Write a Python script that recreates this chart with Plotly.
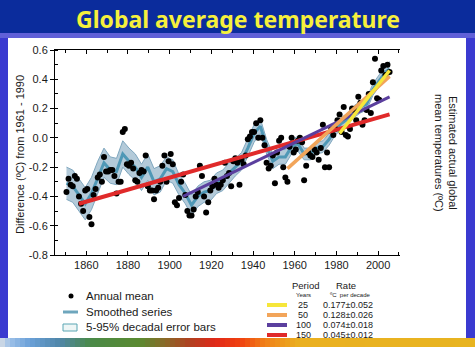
import plotly.graph_objects as go

# ---------------- data ----------------
years = list(range(1850, 2006))
annual = [
    -0.37, -0.28, -0.32, -0.33, -0.26, -0.28, -0.40, -0.45, -0.50, -0.36,   # 1850s
    -0.35, -0.54, -0.59, -0.39, -0.35, -0.27, -0.25, -0.30, -0.13, -0.23,   # 1860s
    -0.23, -0.22, -0.22, -0.26, -0.38, -0.30, -0.30, 0.04, 0.06, -0.18,     # 1870s
    -0.19, -0.17, -0.21, -0.29, -0.30, -0.24, -0.22, -0.23, -0.12, -0.33,   # 1880s
    -0.36, -0.36, -0.42, -0.36, -0.34, -0.30, -0.19, -0.12, -0.30, -0.16,   # 1890s
    -0.11, -0.18, -0.44, -0.46, -0.41, -0.30, -0.25, -0.39, -0.50, -0.53,   # 1900s
    -0.53, -0.49, -0.40, -0.37, -0.19, -0.26, -0.40, -0.51, -0.44, -0.36,   # 1910s
    -0.33, -0.28, -0.32, -0.34, -0.32, -0.29, -0.17, -0.26, -0.24, -0.33,   # 1920s
    -0.16, -0.14, -0.17, -0.32, -0.15, -0.18, -0.12, -0.01, 0.01, 0.04,     # 1930s
    0.04, 0.10, 0.00, 0.12, 0.00, -0.05, -0.17, -0.21, -0.19, -0.12,        # 1940s
    -0.31, -0.10, -0.02, 0.00, -0.20, -0.27, -0.30, -0.06, 0.00, -0.10,     # 1950s
    -0.08, -0.02, 0.00, -0.03, -0.29, -0.19, -0.10, -0.12, -0.13, -0.08,    # 1960s
    -0.10, -0.15, -0.07, 0.09, -0.20, -0.10, -0.20, 0.06, 0.02, 0.06,       # 1970s
    0.12, 0.16, 0.04, 0.21, 0.02, 0.01, 0.06, 0.20, 0.19, 0.12,             # 1980s
    0.28, 0.24, 0.09, 0.12, 0.19, 0.30, 0.17, 0.38, 0.54, 0.27,             # 1990s
    0.26, 0.46, 0.49, 0.43, 0.50, 0.45,                                     # 2000s
]

smooth_years = [1850, 1853, 1856, 1859, 1862, 1865, 1868, 1871, 1874, 1877,
                1880, 1883, 1886, 1889, 1892, 1895, 1898, 1901, 1904, 1907,
                1910, 1913, 1916, 1919, 1922, 1925, 1928, 1931, 1934, 1937,
                1940, 1943, 1946, 1949, 1952, 1955, 1958, 1961, 1964, 1967,
                1970, 1973, 1976, 1979, 1982, 1985, 1988, 1991, 1994, 1997,
                2000, 2003, 2005]
smooth_vals = [-0.31, -0.33, -0.39, -0.45, -0.38, -0.27, -0.17, -0.22, -0.23, -0.11,
               -0.16, -0.20, -0.27, -0.20, -0.30, -0.28, -0.21, -0.23, -0.32, -0.38,
               -0.46, -0.40, -0.37, -0.36, -0.31, -0.29, -0.24, -0.20, -0.16, -0.07,
               0.03, 0.08, -0.06, -0.16, -0.13, -0.13, -0.06, -0.04, -0.11, -0.11,
               -0.07, -0.06, -0.01, 0.06, 0.10, 0.13, 0.18, 0.21, 0.23, 0.33,
               0.39, 0.45, 0.47]
smooth_half = [0.11, 0.11, 0.11, 0.11, 0.11, 0.11, 0.10, 0.09, 0.09, 0.09,
               0.09, 0.09, 0.09, 0.09, 0.09, 0.09, 0.08, 0.08, 0.07, 0.07,
               0.07, 0.07, 0.07, 0.07, 0.07, 0.07, 0.07, 0.06, 0.06, 0.06,
               0.06, 0.05, 0.05, 0.05, 0.05, 0.05, 0.05, 0.05, 0.04, 0.04,
               0.04, 0.04, 0.04, 0.04, 0.04, 0.04, 0.04, 0.04, 0.04, 0.04,
               0.04, 0.05, 0.05]

periods = [25, 50, 100, 150]
rates = [0.177, 0.128, 0.074, 0.045]
rate_err = [0.052, 0.026, 0.018, 0.012]
trend_colors = ["#f6e63a", "#f2a55a", "#5b3f9e", "#e02a2a"]
trend_widths = [3.5, 3.5, 3, 4]
trend_start_val = [0.03, -0.21, -0.40, -0.45]
trend_end_val = [0.46, 0.42, 0.28, 0.16]
end_year = 2005

x_tick_vals = [1860, 1880, 1900, 1920, 1940, 1960, 1980, 2000]
left_tick_vals = [-0.8, -0.6, -0.4, -0.2, 0.0, 0.2, 0.4, 0.6]
left_tick_text = ["-0.8", "-0.6", "-0.4", "-0.2", "0.0", "0.2", "0.4", "0.6"]
right_tick_vals = [13.2, 13.4, 13.6, 13.8, 14.0, 14.2, 14.4, 14.6]
right_tick_text = ["13.2", "13.4", "13.6", "13.8", "14.0", "14.2", "14.4", "14.6"]

# ---------------- layout helpers (pixel -> paper) ----------------
W, H = 475, 347
ML, MR, MT, MB = 55, 75, 50, 92
PW, PH = W - ML - MR, H - MT - MB


def px(x):
    return (x - ML) / PW


def py(y):
    return (H - MB - y) / PH


FONT = "Liberation Sans, Arial, sans-serif"

fig = go.Figure()

# error band
xs = [y + 0.5 for y in smooth_years]
upper = [v + h for v, h in zip(smooth_vals, smooth_half)]
lower = [v - h for v, h in zip(smooth_vals, smooth_half)]
fig.add_trace(go.Scatter(x=xs, y=upper, mode="lines",
                         line=dict(color="#7fa7bf", width=1), hoverinfo="skip",
                         showlegend=False))
fig.add_trace(go.Scatter(x=xs, y=lower, mode="lines", fill="tonexty",
                         fillcolor="#b3cad9",
                         line=dict(color="#7fa7bf", width=1), hoverinfo="skip",
                         showlegend=False))
# smoothed series
fig.add_trace(go.Scatter(x=xs, y=smooth_vals, mode="lines",
                         line=dict(color="#4f98b6", width=3), showlegend=False))
# annual means
fig.add_trace(go.Scatter(x=[y + 0.5 for y in years], y=annual, mode="markers",
                         marker=dict(color="black", size=6), showlegend=False))
# trend lines (longest first so the shortest is on top)
for i in reversed(range(len(periods))):
    x0 = end_year - periods[i] + 1 + 0.5
    x1 = end_year + 0.5
    fig.add_trace(go.Scatter(x=[x0, x1], y=[trend_start_val[i], trend_end_val[i]],
                             mode="lines",
                             line=dict(color=trend_colors[i], width=trend_widths[i]),
                             showlegend=False))

# ---------------- decorative background shapes ----------------
shapes = []


def rect(x0, y0, x1, y1, color):
    shapes.append(dict(type="rect", xref="paper", yref="paper",
                       x0=px(x0), x1=px(x1), y0=py(y1), y1=py(y0),
                       fillcolor=color, line=dict(width=0), layer="below"))


rect(0, 0, W, 33, "#0b2c9c")
rect(0, 33, W, 38, "#6060d8")
rect(8, 38, 466, 338, "#ffffff")

grad_stops = [(0, (216, 221, 228)), (10, (156, 192, 232)), (30, (106, 160, 216)),
              (60, (79, 134, 168)), (90, (74, 138, 72)), (140, (90, 138, 48)),
              (165, (138, 106, 40)), (190, (176, 64, 32)), (215, (224, 40, 24)),
              (240, (240, 64, 16)), (265, (240, 128, 24)), (300, (234, 176, 32)),
              (475, (232, 180, 32))]


def grad_color(x):
    for (xa, ca), (xb, cb) in zip(grad_stops[:-1], grad_stops[1:]):
        if xa <= x <= xb:
            t = (x - xa) / (xb - xa)
            c = [int(round(a + (b - a) * t)) for a, b in zip(ca, cb)]
            return "rgb(%d,%d,%d)" % tuple(c)
    return "rgb(232,180,32)"


step = 5
for xx in range(0, W, step):
    rect(xx, 338, xx + step + 0.6, H, grad_color(xx + step / 2))

# legend glyphs (left block)
shapes.append(dict(type="circle", xref="paper", yref="paper",
                   x0=px(68.5), x1=px(73.5), y0=py(298.5), y1=py(293.5),
                   fillcolor="black", line=dict(width=0)))
shapes.append(dict(type="line", xref="paper", yref="paper",
                   x0=px(63), x1=px(78), y0=py(312), y1=py(312),
                   line=dict(color="#6ea6bd", width=3)))
shapes.append(dict(type="rect", xref="paper", yref="paper",
                   x0=px(63), x1=px(77), y0=py(331), y1=py(324),
                   fillcolor="#eef6f6", line=dict(color="#5aa6b4", width=1)))
# legend glyphs (trend table)
row_y = [305, 315, 325, 335]
for i in range(len(periods)):
    shapes.append(dict(type="line", xref="paper", yref="paper",
                       x0=px(267), x1=px(287), y0=py(row_y[i]), y1=py(row_y[i]),
                       line=dict(color=trend_colors[i], width=4)))

# ---------------- annotations ----------------
ann = []


def text(x, y, s, size, color="#1a1a1a", xanchor="center", angle=0, family=FONT):
    ann.append(dict(x=px(x), y=py(y), xref="paper", yref="paper", text=s,
                    showarrow=False, xanchor=xanchor, yanchor="middle",
                    textangle=angle, borderpad=0,
                    font=dict(size=size, color=color, family=family)))


text(237.5, 19, "<b>Global average temperature</b>", 23, color="#f6f03c",
     family="Comic Sans MS, Noto Sans, sans-serif")
text(20, 155, "Difference (ºC) from 1961 - 1990", 11, angle=-90)
text(446, 153, "Estimated actual global<br>mean temperatures (ºC)", 11, angle=90)

text(85, 296, "Annual mean", 11.5, xanchor="left")
text(85, 312, "Smoothed series", 11.5, xanchor="left")
text(85, 327, "5-95% decadal error bars", 11.5, xanchor="left")

text(305, 285.5, "Period", 9.5)
text(346, 285.5, "Rate", 9.5)
text(303, 294.5, "Years", 6)
text(350, 294.5, "ºC  per decade", 6)
for i in range(len(periods)):
    text(303, row_y[i], str(periods[i]), 9)
    text(348, row_y[i], "%.3f±%.3f" % (rates[i], rate_err[i]), 9)

fig.update_layout(
    width=W, height=H,
    margin=dict(l=ML, r=MR, t=MT, b=MB),
    paper_bgcolor="#3a3ad0",
    plot_bgcolor="white",
    shapes=shapes,
    annotations=ann,
    showlegend=False,
    xaxis=dict(range=[1845, 2010.5], tickvals=x_tick_vals,
               ticktext=[str(v) for v in x_tick_vals],
               showgrid=False, zeroline=False, showline=True, linecolor="black",
               linewidth=1, mirror="ticks", ticks="inside", ticklen=4,
               tickcolor="black",
               minor=dict(tickvals=[1850, 1870, 1890, 1910, 1930, 1950, 1970, 1990, 2010],
                          ticks="inside", ticklen=3, tickcolor="black"),
               tickfont=dict(family=FONT, size=11, color="#1a1a1a")),
    yaxis=dict(range=[-0.8, 0.6], tickvals=left_tick_vals, ticktext=left_tick_text,
               showgrid=False, zeroline=False, showline=True, linecolor="black",
               linewidth=1, ticks="outside", ticklen=4, tickcolor="black",
               minor=dict(dtick=0.1, tick0=-0.8, ticks="inside", ticklen=3,
                          tickcolor="black"),
               tickfont=dict(family=FONT, size=11, color="#1a1a1a")),
    yaxis2=dict(range=[13.2, 14.6], overlaying="y", side="right", anchor="x",
                tickvals=right_tick_vals, ticktext=right_tick_text,
                showgrid=False, zeroline=False, showline=True, linecolor="black",
                linewidth=1, ticks="outside", ticklen=4, tickcolor="black",
                minor=dict(dtick=0.1, tick0=13.2, ticks="inside", ticklen=3,
                           tickcolor="black"),
                tickfont=dict(family=FONT, size=11, color="#1a1a1a")),
)

fig.write_html("out.html")
